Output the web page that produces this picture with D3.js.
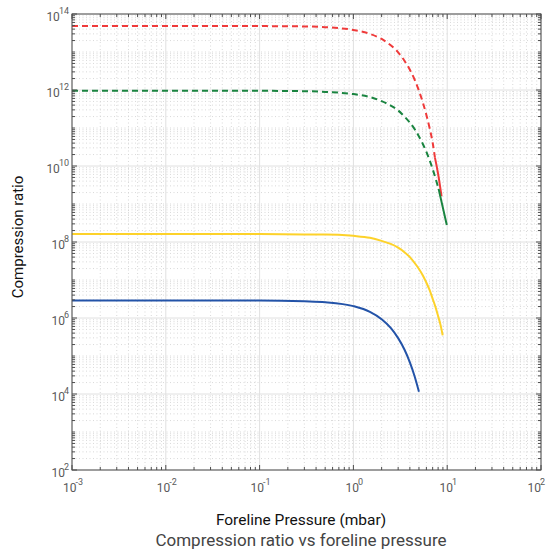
<!DOCTYPE html>
<html>
<head>
<meta charset="utf-8">
<script src="https://cdn.jsdelivr.net/npm/d3@7"></script>
<style>
  html, body { margin: 0; padding: 0; background: #fff; }
  svg { display: block; font-family: Roboto, "Noto Sans", sans-serif; }
</style>
</head>
<body>
<svg id="chart" width="547" height="552"></svg>
<script>
// ---- data ----
const xTickValues = [1e-3, 1e-2, 1e-1, 1e0, 1e1, 1e2];
const xTickExp = ["-3", "-2", "-1", "0", "1", "2"];
const yTickValues = [1e2, 1e4, 1e6, 1e8, 1e10, 1e12, 1e14];
const yTickExp = ["2", "4", "6", "8", "10", "12", "14"];

// red (dashed then solid)
const redDashP = [0.001, 0.1, 0.3, 0.5, 1, 1.5, 2, 2.5, 3, 3.5, 4, 4.5, 5, 5.5, 6, 6.5, 7, 7.4];
const redDashK = [4.8e13, 4.8e13, 4.7e13, 4.5e13, 3.8e13, 3.0e13, 2.2e13, 1.5e13, 9.8e12, 5.9e12, 3.4e12, 1.86e12, 9.5e11, 4.7e11, 2.2e11, 9.8e10, 4.1e10, 1.66e10];
const redSolidP = [7.4, 8.0, 8.7];
const redSolidK = [1.66e10, 6.2e9, 1.6e9];

// green (dashed then solid)
const greenDashP = [0.001, 0.1, 0.3, 0.5, 1, 1.5, 2, 2.5, 3, 3.5, 4, 4.5, 5, 5.5, 6, 6.5, 7, 7.5, 8.1];
const greenDashK = [9.5e11, 9.5e11, 9.3e11, 8.9e11, 7.8e11, 6.5e11, 5.1e11, 3.9e11, 2.9e11, 2.0e11, 1.38e11, 9.3e10, 6.0e10, 3.8e10, 2.35e10, 1.41e10, 8.3e9, 4.8e9, 2.5e9];
const greenSolidP = [8.1, 9.0, 9.9];
const greenSolidK = [2.5e9, 7.9e8, 2.8e8];

// yellow (solid)
const yellowP = [0.001, 0.1, 0.3, 0.5, 1, 1.5, 2, 2.5, 3, 3.5, 4, 4.5, 5, 5.5, 6, 6.5, 7, 7.5, 8, 8.5, 8.95];
const yellowK = [1.62e8, 1.62e8, 1.58e8, 1.58e8, 1.45e8, 1.29e8, 1.07e8, 8.9e7, 7.1e7, 5.4e7, 4.0e7, 2.8e7, 1.95e7, 1.32e7, 8.5e6, 5.4e6, 3.2e6, 1.95e6, 1.12e6, 6.5e5, 3.5e5];

// blue (solid)
const blueP = [0.001, 0.1, 0.3, 0.5, 1, 1.5, 2, 2.5, 3, 3.5, 4, 4.5, 5];
const blueK = [2.9e6, 2.9e6, 2.75e6, 2.6e6, 2.05e6, 1.45e6, 9.3e5, 5.5e5, 2.95e5, 1.48e5, 6.8e4, 2.9e4, 1.15e4];

const xLabel = "Foreline Pressure (mbar)";
const yLabel = "Compression ratio";
const title = "Compression ratio vs foreline pressure";

// ---- layout ----
const L = 72, R = 541, T = 14, B = 470;
const svg = d3.select("#chart");
const x = d3.scaleLog().domain([1e-3, 1e2]).range([L, R]);
const y = d3.scaleLog().domain([1e2, 1e14]).range([B, T]);

const grid = svg.append("g");
// minor grid
const xMinor = [], yMinor = [];
for (let k = -3; k < 2; k++) for (let m = 2; m <= 9; m++) xMinor.push(m * Math.pow(10, k));
for (let k = 2; k < 14; k++) {
  if (k % 2 === 1) yMinor.push(Math.pow(10, k));
  for (let m = 2; m <= 9; m++) yMinor.push(m * Math.pow(10, k));
}
grid.selectAll(".xm").data(xMinor).join("line")
  .attr("x1", d => x(d)).attr("x2", d => x(d)).attr("y1", T).attr("y2", B)
  .attr("stroke", "#cfcfcf").attr("stroke-width", 0.8).attr("stroke-dasharray", "1,2.5");
grid.selectAll(".ym").data(yMinor).join("line")
  .attr("y1", d => y(d)).attr("y2", d => y(d)).attr("x1", L).attr("x2", R)
  .attr("stroke", "#cfcfcf").attr("stroke-width", 0.8).attr("stroke-dasharray", "1,2.5");
// major grid
grid.selectAll(".xM").data(xTickValues).join("line")
  .attr("x1", d => x(d)).attr("x2", d => x(d)).attr("y1", T).attr("y2", B)
  .attr("stroke", "#e0e0e0").attr("stroke-width", 1);
grid.selectAll(".yM").data(yTickValues).join("line")
  .attr("y1", d => y(d)).attr("y2", d => y(d)).attr("x1", L).attr("x2", R)
  .attr("stroke", "#e0e0e0").attr("stroke-width", 1);

// ---- series ----
const line = d3.line().x(d => x(d[0])).y(d => y(d[1])).curve(d3.curveMonotoneX);
const zip = (a, b) => a.map((v, i) => [v, b[i]]);
const series = [
  { p: blueP, k: blueK, color: "#2353a8", dash: null },
  { p: yellowP, k: yellowK, color: "#fdd22a", dash: null },
  { p: greenDashP, k: greenDashK, color: "#1a8440", dash: "6,4" },
  { p: redDashP, k: redDashK, color: "#ef3a3a", dash: "6,4" },
  { p: redSolidP, k: redSolidK, color: "#ef3a3a", dash: null },
  { p: greenSolidP, k: greenSolidK, color: "#1a8440", dash: null }
];
const lines = svg.append("g");
series.forEach(s => {
  lines.append("path")
    .attr("d", line(zip(s.p, s.k)))
    .attr("fill", "none")
    .attr("stroke", s.color)
    .attr("stroke-width", 2)
    .attr("stroke-dasharray", s.dash);
});

// ---- frame and ticks (inward on all sides) ----
const axes = svg.append("g").attr("stroke", "#4d4d4d").attr("stroke-width", 1);
axes.append("rect").attr("x", L).attr("y", T).attr("width", R - L).attr("height", B - T)
  .attr("fill", "none");
[[B, -1], [T, 1]].forEach(([yy, dir]) => {
  axes.selectAll(null).data(xTickValues).join("line")
    .attr("x1", d => x(d)).attr("x2", d => x(d)).attr("y1", yy).attr("y2", yy + dir * 5);
  axes.selectAll(null).data(xMinor).join("line")
    .attr("x1", d => x(d)).attr("x2", d => x(d)).attr("y1", yy).attr("y2", yy + dir * 3);
});
[[L, 1], [R, -1]].forEach(([xx, dir]) => {
  axes.selectAll(null).data(yTickValues).join("line")
    .attr("y1", d => y(d)).attr("y2", d => y(d)).attr("x1", xx).attr("x2", xx + dir * 5);
  axes.selectAll(null).data(yMinor).join("line")
    .attr("y1", d => y(d)).attr("y2", d => y(d)).attr("x1", xx).attr("x2", xx + dir * 3);
});

// ---- tick labels ----
const xt = svg.append("g").attr("fill", "#5a5a5a").attr("font-size", 12);
xTickValues.forEach((v, i) => {
  const last = i === xTickValues.length - 1;
  const t = xt.append("text").attr("x", last ? 545 : x(v) + 1).attr("y", 492)
    .attr("text-anchor", last ? "end" : "middle");
  t.append("tspan").text("10");
  t.append("tspan").attr("dx", -1).attr("dy", -7).attr("font-size", 9).text(xTickExp[i]);
});
const yt = svg.append("g").attr("fill", "#5a5a5a").attr("font-size", 12);
yTickValues.forEach((v, i) => {
  const t = yt.append("text").attr("x", 69).attr("y", y(v) + 7).attr("text-anchor", "end");
  t.append("tspan").text("10");
  t.append("tspan").attr("dx", -1).attr("dy", -7).attr("font-size", 9).text(yTickExp[i]);
});

// ---- axis titles ----
svg.append("text").attr("x", 301).attr("y", 525).attr("text-anchor", "middle")
  .attr("font-size", 15.5).attr("fill", "#111").text(xLabel);
svg.append("text").attr("transform", "translate(23,237) rotate(-90)").attr("text-anchor", "middle")
  .attr("font-size", 15).attr("fill", "#111").text(yLabel);
svg.append("text").attr("x", 301).attr("y", 546).attr("text-anchor", "middle")
  .attr("font-size", 17).attr("fill", "#444").text(title);
</script>
</body>
</html>
